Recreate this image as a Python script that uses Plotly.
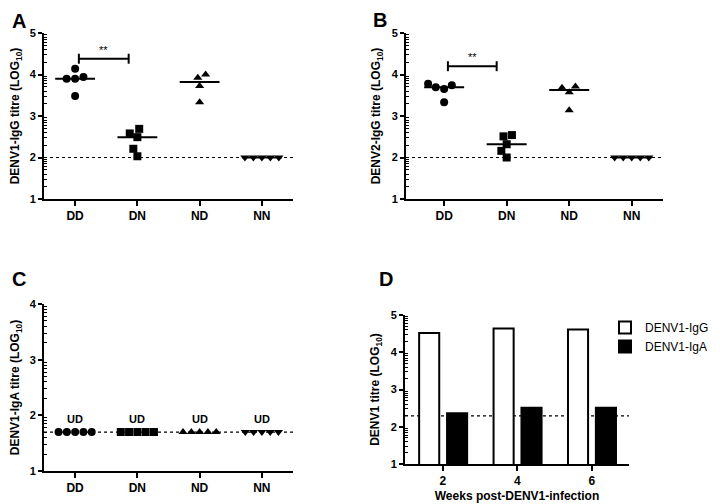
"""
Antibody titres after DENV infection: IgG (A, B), IgA (C) and time course (D).
"""

import numpy as np
import plotly.graph_objects as go

GROUPS = ["DD", "DN", "ND", "NN"]
SYMBOLS = ["circle", "square", "triangle-up", "triangle-down"]

# panel A - DENV1 IgG titre (log10)
denv1_igg_dd = [3.90, 4.14, 3.90, 3.94, 3.48]
denv1_igg_dn = [2.58, 2.49, 2.69, 2.21, 2.03]
denv1_igg_nd = [3.92, 4.00, 3.72, 3.33]
denv1_igg_nn = [2.0, 2.0, 2.0, 2.0, 2.0]

# panel B - DENV2 IgG titre (log10)
denv2_igg_dd = [3.78, 3.69, 3.65, 3.74, 3.33]
denv2_igg_dn = [2.51, 2.32, 2.54, 2.16, 2.00]
denv2_igg_nd = [3.68, 3.57, 3.71, 3.14]
denv2_igg_nn = [2.0, 2.0, 2.0, 2.0, 2.0]

# panel C - DENV1 IgA titre (log10), all undetectable
denv1_iga_dd = [1.7, 1.7, 1.7, 1.7, 1.7]
denv1_iga_dn = [1.7, 1.7, 1.7, 1.7, 1.7]
denv1_iga_nd = [1.7, 1.7, 1.7, 1.7, 1.7]
denv1_iga_nn = [1.7, 1.7, 1.7, 1.7, 1.7]

# panel D - titres over time
weeks = ["2", "4", "6"]
timecourse_igg = [4.52, 4.64, 4.61]
timecourse_iga = [2.36, 2.51, 2.51]

# detection limits (log10)
igg_limit = 2.0
iga_limit = 1.7
timecourse_limit = 2.29

FONT = "Arial, Liberation Sans, sans-serif"

# the page body has an 8px margin, so the figure is a bit smaller than the window
PAGE_PAD = 8
FIG_W = 722 - PAGE_PAD
FIG_H = 504 - PAGE_PAD


def fx(px):
    return (px - PAGE_PAD) / FIG_W


def fy(py):
    return 1 - (py - PAGE_PAD) / FIG_H


def swarm_offsets(values, px_per_x, px_per_y, size=8.5):
    """
    Simple beeswarm: returns x offsets (axis units) so markers do not overlap.
    """
    values = np.asarray(values, dtype=float)
    order = np.argsort(values, kind="stable")
    placed = []
    out = np.zeros(len(values))
    for i in order:
        y = values[i] * px_per_y
        cands = [0.0]
        for px, py in placed:
            dy = abs(y - py)
            if dy < size:
                dx = np.sqrt(size ** 2 - dy ** 2)
                cands += [px - dx, px + dx]
        cands.sort(key=lambda c: (abs(c), c))
        chosen = cands[0]
        for c in cands:
            if all((c - px) ** 2 + (y - py) ** 2 >= size ** 2 - 1e-6 for px, py in placed):
                chosen = c
                break
        placed.append((chosen, y))
        out[i] = chosen / px_per_x
    return out


def axis_names(n):
    return ("x", "y") if n == 1 else (f"x{n}", f"y{n}")


def add_dot_panel(fig, groups, axis_n, px_per_x, px_per_y, medians=True, size=8.5):
    xa, ya = axis_names(axis_n)
    for i, vals in enumerate(groups):
        offs = swarm_offsets(vals, px_per_x, px_per_y, size)
        fig.add_trace(go.Scatter(
            x=i + offs, y=vals, mode="markers", xaxis=xa, yaxis=ya,
            marker=dict(symbol=SYMBOLS[i], size=8, color="black"),
            showlegend=False, cliponaxis=False))
        if medians:
            med = float(np.median(vals))
            fig.add_trace(go.Scatter(
                x=[i - 0.32, i + 0.32], y=[med, med], mode="lines",
                xaxis=xa, yaxis=ya, line=dict(color="black", width=2),
                showlegend=False))


def add_limit_line(fig, axis_n, level):
    xa, ya = axis_names(axis_n)
    fig.add_shape(type="line", xref=f"{xa} domain", yref=ya, x0=0, x1=1,
                  y0=level, y1=level, line=dict(color="black", width=1.2, dash="dot"),
                  layer="below")


def add_bracket(fig, axis_n, x0, x1, level, label):
    xa, ya = axis_names(axis_n)
    line = dict(color="black", width=2)
    fig.add_shape(type="line", xref=xa, yref=ya, x0=x0, x1=x1, y0=level, y1=level, line=line)
    for xv in (x0, x1):
        fig.add_shape(type="line", xref=xa, yref=ya, x0=xv, x1=xv,
                      y0=level - 0.12, y1=level + 0.12, line=line)
    fig.add_annotation(x=(x0 + x1) / 2, y=level, xref=xa, yref=ya, text=label,
                       showarrow=False, yshift=9, font=dict(size=11, color="black"))


fig = go.Figure()

add_dot_panel(fig, [denv1_igg_dd, denv1_igg_dn, denv1_igg_nd, denv1_igg_nn], 1, 62.3, 41.5)
add_dot_panel(fig, [denv2_igg_dd, denv2_igg_dn, denv2_igg_nd, denv2_igg_nn], 2, 62.3, 41.5)
add_dot_panel(fig, [denv1_iga_dd, denv1_iga_dn, denv1_iga_nd, denv1_iga_nn], 3, 62.3, 55.7,
              medians=False, size=8.3)

fig.add_trace(go.Bar(x=weeks, y=timecourse_igg, name="DENV1-IgG", xaxis="x4", yaxis="y4",
                     width=0.27, offset=-0.32,
                     marker=dict(color="white", line=dict(color="black", width=2))))
fig.add_trace(go.Bar(x=weeks, y=timecourse_iga, name="DENV1-IgA", xaxis="x4", yaxis="y4",
                     width=0.27, offset=0.055,
                     marker=dict(color="black", line=dict(color="black", width=2))))

for n, lvl in [(1, igg_limit), (2, igg_limit), (3, iga_limit), (4, timecourse_limit)]:
    add_limit_line(fig, n, lvl)

add_bracket(fig, 1, 0.06, 0.86, 4.38, "**")
add_bracket(fig, 2, 0.06, 0.84, 4.2, "**")

for i in range(len(GROUPS)):
    fig.add_annotation(x=i, y=iga_limit, xref="x3", yref="y3", text="UD", showarrow=False,
                       yshift=13, font=dict(size=11, color="black", weight="bold"))

# panel letters (kept just inside the figure so they are not clipped)
for letter, px, py in [("A", 19, 21), ("B", 380, 20), ("C", 19, 279), ("D", 386, 279)]:
    fig.add_annotation(x=fx(px), y=fy(py), xref="paper", yref="paper", text=letter,
                       showarrow=False, xanchor="center", yanchor="middle",
                       font=dict(size=20, color="black", weight="bold"))

log_minor = [n + np.log10(k) for n in range(1, 5) for k in range(2, 10)]


def y_axis(top_px, bottom_px, top, title, anchor):
    return dict(domain=[fy(bottom_px), fy(top_px)], range=[1, top], anchor=anchor,
                dtick=1, automargin=False,
                showline=True, linewidth=2, linecolor="black", showgrid=False,
                zeroline=False, ticks="outside", ticklen=4, tickwidth=2,
                tickcolor="black",
                tickfont=dict(size=11, color="black", weight="bold"),
                minor=dict(tickvals=log_minor, ticks="inside", ticklen=3,
                           tickwidth=1, tickcolor="black"),
                title=dict(text=title, standoff=8,
                           font=dict(size=12, color="black", weight="bold")))


def x_axis(left_px, right_px, rng, tickvals, ticktext, anchor, title=None, kind="linear"):
    ax = dict(domain=[fx(left_px), fx(right_px)], range=rng, anchor=anchor, type=kind,
              tickvals=tickvals, ticktext=ticktext, automargin=False,
              showline=True, linewidth=2, linecolor="black",
              showgrid=False, zeroline=False, ticks="outside", ticklen=5,
              tickwidth=2, tickcolor="black",
              tickfont=dict(size=12, color="black", weight="bold"))
    if title:
        ax["title"] = dict(text=title, standoff=4,
                           font=dict(size=12, color="black", weight="bold"))
    return ax


idx = list(range(len(GROUPS)))
fig.update_layout(
    template="none",
    width=FIG_W, height=FIG_H,
    margin=dict(l=0, r=0, t=0, b=0),
    paper_bgcolor="white", plot_bgcolor="white",
    font=dict(family=FONT, color="black"),
    barmode="overlay",
    xaxis=x_axis(44, 293, [-0.5, 3.5], idx, GROUPS, "y"),
    yaxis=y_axis(33, 199, 5, "DENV1-IgG titre (LOG<sub>10</sub>)", "x"),
    xaxis2=x_axis(406, 663, [-0.61, 3.5], idx, GROUPS, "y2"),
    yaxis2=y_axis(33, 199, 5, "DENV2-IgG titre (LOG<sub>10</sub>)", "x2"),
    xaxis3=x_axis(44, 293, [-0.5, 3.5], idx, GROUPS, "y3"),
    yaxis3=y_axis(304, 471, 4, "DENV1-IgA titre (LOG<sub>10</sub>)", "x3"),
    xaxis4=x_axis(405, 629, [-0.51, 2.5], weeks, weeks, "y4",
                  title="Weeks post-DENV1-infection", kind="category"),
    yaxis4=y_axis(315, 464, 5, "DENV1 titre (LOG<sub>10</sub>)", "x4"),
    legend=dict(x=fx(605), y=fy(313), xanchor="left", yanchor="top",
                font=dict(size=12, color="black"), bgcolor="rgba(0,0,0,0)",
                tracegroupgap=0),
)

fig.write_html("out.html")
